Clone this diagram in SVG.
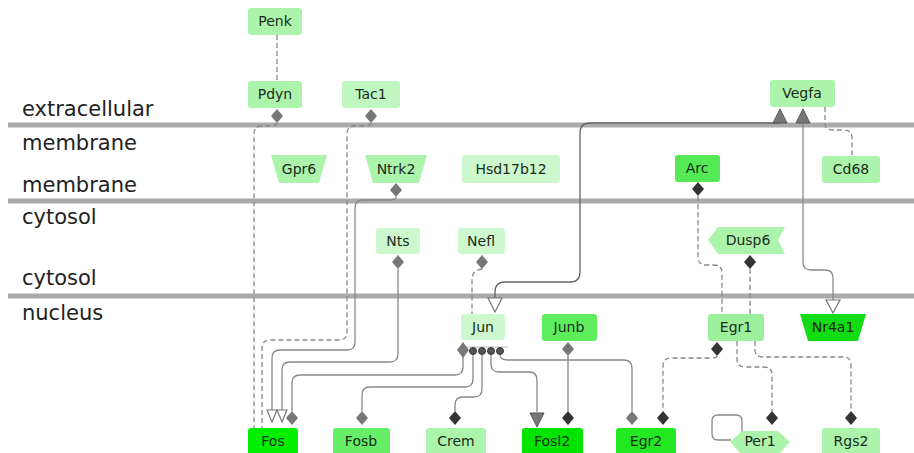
<svg xmlns="http://www.w3.org/2000/svg" width="914" height="453" viewBox="0 0 914 453">
<defs>
<style>
.sep{stroke:#aaa;stroke-width:5}
.cl{font-family:"DejaVu Sans",sans-serif;font-size:21px;fill:#222}
.nl{font-family:"DejaVu Sans",sans-serif;font-size:14px;fill:#1a2a1a;text-anchor:middle}
.c{fill:none;stroke:#888;stroke-width:1.3}
.d{stroke-dasharray:5,3}
.dg{fill:#777}
.dk{fill:#333}
.ot{fill:#fff;stroke:#777;stroke-width:1.2}
.ft{fill:#777;stroke:#555;stroke-width:1}
.g1{fill:#acf4ac}
.g0{fill:#cdf8cd}
.g2{fill:#55ea55}
.g3{fill:#66ee66}
.g4{fill:#0ee80e}
</style>
</defs>
<rect width="914" height="453" fill="#fff"/>
<g id="compartments">
<line class="sep" x1="8" y1="125" x2="914" y2="125"/>
<line class="sep" x1="8" y1="201" x2="914" y2="201"/>
<line class="sep" x1="8" y1="296" x2="914" y2="296"/>
<text class="cl" x="22" y="116">extracellular</text>
<text class="cl" x="22" y="150">membrane</text>
<text class="cl" x="22" y="192">membrane</text>
<text class="cl" x="22" y="224">cytosol</text>
<text class="cl" x="22" y="285">cytosol</text>
<text class="cl" x="22" y="320">nucleus</text>
</g>
<g id="connectors">
<path class="c d" d="M277,35 L277,81"/>
<path class="c d" d="M277,123 Q277,126 270,126 L262,126 Q254,126 254,134 L254,428"/>
<path class="c d" d="M371,123 Q371,126 364,126 L355,126 Q347,126 347,134 L347,332 Q347,340 339,340 L270,340 Q262,340 262,348 L262,428"/>
<path class="c" d="M396,197 Q396,200 389,200 L363,200 Q355,200 355,208 L355,342 Q355,350 347,350 L280,350 Q272,350 272,358 L272,410"/>
<path class="c" d="M398,269 L398,354 Q398,362 390,362 L290,362 Q282,362 282,370 L282,410"/>
<path class="c" d="M463,357 L463,367 Q463,375 455,375 L300,375 Q292,375 292,383 L292,411"/>
<path class="c" d="M473,355 L473,379 Q473,387 465,387 L370,387 Q362,387 362,395 L362,411"/>
<path class="c" d="M482,355 L482,389 Q482,397 474,397 L463,397 Q455,397 455,405 L455,411"/>
<path class="c" d="M491,355 L491,364 Q491,372 499,372 L529,372 Q537,372 537,380 L537,412"/>
<path class="c" d="M500,355 Q500,360 508,360 L624,360 Q632,360 632,368 L632,411"/>
<path class="c" d="M568,356 L568,411"/>
<path class="c" style="stroke:#666" d="M780,123 L590,123 Q580,123 580,133 L580,272 Q580,282 570,282 L505,282 Q495,282 495,292 L495,298"/>
<path class="c" d="M803,124 L803,262 Q803,270 811,270 L825,270 Q833,270 833,278 L833,300"/>
<path class="c d" d="M825,107 L825,124 Q825,130 833,130 L844,130 Q852,130 852,138 L852,156"/>
<path class="c d" d="M698,196 L698,257 Q698,265 706,265 L714,265 Q722,265 722,273 L722,314"/>
<path class="c d" d="M750,269 L750,314"/>
<path class="c d" d="M717,356 Q717,358 710,358 L671,358 Q663,358 663,366 L663,411"/>
<path class="c d" d="M737,341 L737,359 Q737,367 745,367 L764,367 Q772,367 772,375 L772,411"/>
<path class="c d" d="M755,341 L755,350 Q755,357 763,357 L843,357 Q851,357 851,365 L851,411"/>
<path class="c" d="M742,432 L742,421 Q742,415 736,415 L718,415 Q712,415 712,421 L712,434 Q712,440 718,440 L731,440"/>
<path class="c d" d="M482,269 Q472,270 472,280 L472,314"/>
<line x1="463" y1="347" x2="508" y2="347" stroke="#bbb" stroke-width="1"/>
<path class="dg" d="M277,109 L283,116 L277,123 L271,116Z"/>
<path class="dg" d="M371,109 L377,116 L371,123 L365,116Z"/>
<path class="dg" d="M396,183 L402,190 L396,197 L390,190Z"/>
<path class="dg" d="M398,255 L404,262 L398,269 L392,262Z"/>
<path class="dg" d="M482,255 L488,262 L482,269 L476,262Z"/>
<path class="dg" d="M463,342 L469,350 L463,358 L457,350Z"/>
<path class="dg" d="M568,342 L574,349 L568,356 L562,349Z"/>
<path class="dk" d="M698,182 L704,189 L698,196 L692,189Z"/>
<path class="dk" d="M750,255 L756,262 L750,269 L744,262Z"/>
<path class="dk" d="M717,342 L723,349 L717,356 L711,349Z"/>
<path class="ot" d="M267,410 L277,410 L272,422Z"/>
<path class="ot" d="M277,410 L287,410 L282,422Z"/>
<path class="dg" d="M292,411 L298,418 L292,425 L286,418Z"/>
<path class="dg" d="M362,411 L368,418 L362,425 L356,418Z"/>
<path class="dk" d="M455,411 L461,418 L455,425 L449,418Z"/>
<path class="ft" d="M530,413 L544,413 L537,427Z"/>
<path class="dk" d="M568,411 L574,418 L568,425 L562,418Z"/>
<path class="dg" d="M632,411 L638,418 L632,425 L626,418Z"/>
<path class="dk" d="M663,411 L669,418 L663,425 L657,418Z"/>
<path class="dk" d="M772,411 L778,418 L772,425 L766,418Z"/>
<path class="dk" d="M851,411 L857,418 L851,425 L845,418Z"/>
<path class="ft" d="M780,109 L787,123 L773,123Z"/>
<path class="ft" d="M803,109 L810,123 L796,123Z"/>
<path class="ot" d="M488,298 L502,298 L495,312Z"/>
<path class="ot" d="M826,300 L840,300 L833,313Z"/>
<g fill="#555" stroke="#333" stroke-width="1">
<circle cx="473" cy="351" r="3.5"/>
<circle cx="482" cy="351" r="3.5"/>
<circle cx="491" cy="351" r="3.5"/>
<circle cx="500" cy="351" r="3.5"/>
</g>
</g>
<g id="Penk"><rect class="g1" x="248" y="8" width="54" height="27" rx="3"/><text class="nl" x="275" y="26">Penk</text></g>
<g id="Pdyn"><rect class="g1" x="248" y="81" width="54" height="27" rx="3"/><text class="nl" x="275" y="99">Pdyn</text></g>
<g id="Tac1"><rect class="g0" x="342" y="81" width="58" height="27" rx="3" style="fill:#c0f6c0"/><text class="nl" x="371" y="99">Tac1</text></g>
<g id="Vegfa"><rect class="g1" x="770" y="80" width="65" height="27" rx="3"/><text class="nl" x="802" y="98">Vegfa</text></g>
<g id="Gpr6"><polygon class="g1" points="271,155 327,155 319,183 279,183"/><text class="nl" x="299" y="174">Gpr6</text></g>
<g id="Ntrk2"><polygon class="g1" points="365,155 427,155 419,183 373,183"/><text class="nl" x="396" y="174">Ntrk2</text></g>
<g id="Hsd17b12"><rect class="g0" x="462" y="155" width="98" height="28" rx="3"/><text class="nl" x="511" y="174">Hsd17b12</text></g>
<g id="Arc"><rect class="g2" x="675" y="155" width="45" height="27" rx="3"/><text class="nl" x="697" y="173">Arc</text></g>
<g id="Cd68"><rect class="g1" x="822" y="156" width="58" height="27" rx="3"/><text class="nl" x="851" y="174">Cd68</text></g>
<g id="Nts"><rect class="g0" x="376" y="228" width="44" height="26" rx="3"/><text class="nl" x="398" y="246">Nts</text></g>
<g id="Nefl"><rect class="g0" x="458" y="228" width="47" height="26" rx="3"/><text class="nl" x="481" y="246">Nefl</text></g>
<g id="Dusp6"><polygon class="g1" points="718,227 785,227 778,240 785,254 718,254 708,240"/><text class="nl" x="748" y="245">Dusp6</text></g>
<g id="Jun"><rect class="g0" x="461" y="314" width="44" height="26" rx="3"/><text class="nl" x="483" y="332">Jun</text></g>
<g id="Junb"><rect class="g3" x="542" y="314" width="55" height="27" rx="3" style="fill:#5ded5d"/><text class="nl" x="569" y="332">Junb</text></g>
<g id="Egr1"><rect class="g1" x="708" y="314" width="56" height="27" rx="3" style="fill:#9cf09c"/><text class="nl" x="736" y="332">Egr1</text></g>
<g id="Nr4a1"><polygon points="800,314 866,314 858,341 808,341" fill="#14dc14"/><text class="nl" x="833" y="332">Nr4a1</text></g>
<g id="Fos"><rect class="g4" x="248" y="428" width="50" height="28" rx="3" style="fill:#00ee00"/><text class="nl" x="273" y="446">Fos</text></g>
<g id="Fosb"><rect class="g3" x="333" y="428" width="57" height="28" rx="3"/><text class="nl" x="361" y="446">Fosb</text></g>
<g id="Crem"><rect class="g1" x="426" y="428" width="60" height="28" rx="3"/><text class="nl" x="456" y="446">Crem</text></g>
<g id="Fosl2"><rect class="g4" x="522" y="428" width="61" height="28" rx="3" style="fill:#00e400"/><text class="nl" x="552" y="446">Fosl2</text></g>
<g id="Egr2"><rect class="g4" x="616" y="428" width="60" height="28" rx="3" style="fill:#22e822"/><text class="nl" x="646" y="446">Egr2</text></g>
<g id="Per1"><polygon class="g1" points="742,431 778,431 790,442 778,455 742,455 730,442"/><text class="nl" x="760" y="446">Per1</text></g>
<g id="Rgs2"><rect class="g1" x="822" y="428" width="58" height="28" rx="3"/><text class="nl" x="851" y="446">Rgs2</text></g>
</svg>
